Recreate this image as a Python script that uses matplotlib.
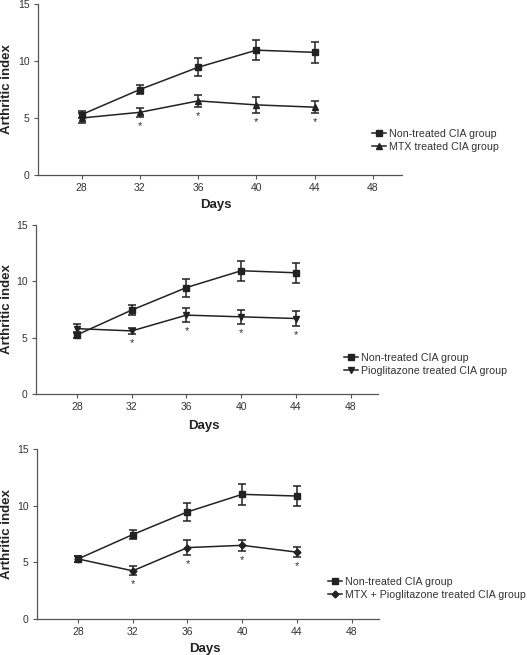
import matplotlib
matplotlib.use("Agg")
import matplotlib.pyplot as plt
from matplotlib.lines import Line2D

plt.rcParams['font.family'] = ['Liberation Sans', 'DejaVu Sans']

days = [28, 32, 36, 40, 44]
day_ticks = [28, 32, 36, 40, 44, 48]
index_ticks = [0, 5, 10, 15]

# non-treated CIA group, one reading per panel
control_1 = [5.3, 7.5, 9.45, 10.95, 10.76]
control_1_err = [0.3, 0.4, 0.8, 0.88, 0.9]
control_2 = [5.25, 7.45, 9.45, 10.94, 10.76]
control_2_err = [0.25, 0.42, 0.8, 0.89, 0.87]
control_3 = [5.3, 7.45, 9.45, 11.0, 10.85]
control_3_err = [0.25, 0.4, 0.8, 0.9, 0.9]

# treated groups
mtx = [5.0, 5.5, 6.5, 6.15, 5.95]
mtx_err = [0.4, 0.4, 0.5, 0.72, 0.53]
pio = [5.8, 5.6, 7.0, 6.85, 6.7]
pio_err = [0.37, 0.3, 0.63, 0.6, 0.7]
combo = [5.3, 4.25, 6.3, 6.5, 5.9]
combo_err = [0.25, 0.4, 0.63, 0.5, 0.44]

# days with significant difference (asterisk)
signif_days = [32, 36, 40, 44]

control_label = "Non-treated CIA group"
treated_labels = ["MTX treated CIA group",
                  "Pioglitazone treated CIA group",
                  "MTX + Pioglitazone treated CIA group"]

W, H = 527, 655
ink = "#222222"
text_col = "#333333"


def px_axes(left, right, top, bottom):
    return [left / W, 1 - bottom / H, (right - left) / W, (bottom - top) / H]


panels = [
    (px_axes(38, 402, 4, 175), control_1, control_1_err, mtx, mtx_err, "^",
     treated_labels[0], (372, 129), -0.14),
    (px_axes(36, 378, 225, 394), control_2, control_2_err, pio, pio_err, "v",
     treated_labels[1], (344, 353), -0.155),
    (px_axes(37, 379, 449, 619), control_3, control_3_err, combo, combo_err,
     "D", treated_labels[2], (328, 577), -0.14),
]

fig = plt.figure(figsize=(W / 100, H / 100), dpi=100)

for rect, ctrl, ctrl_err, trt, trt_err, mk, lab, leg_xy, xl_y in panels:
    ax = fig.add_axes(rect)
    ax.errorbar(days, ctrl, yerr=ctrl_err, color=ink, marker="s",
                markersize=5, lw=1.1, capsize=3, capthick=1.1, elinewidth=1.1)
    msize = 3.5 if mk == "D" else 4.5
    ax.errorbar(days, trt, yerr=trt_err, color=ink, marker=mk,
                markersize=msize, lw=1.1, capsize=3, capthick=1.1,
                elinewidth=1.1)
    for d in signif_days:
        i = days.index(d)
        ax.annotate("*", (d, trt[i] - trt_err[i]), xytext=(0, -3),
                    textcoords="offset points", ha="center", va="top",
                    fontsize=8, color=text_col)

    ax.set_xlim(25, 50)
    ax.set_ylim(0, 15)
    ax.set_xticks(day_ticks)
    ax.set_yticks(index_ticks)
    for s in ["top", "right"]:
        ax.spines[s].set_visible(False)
    for s in ["left", "bottom"]:
        ax.spines[s].set_color("#555555")
        ax.spines[s].set_linewidth(0.9)
    ax.tick_params(direction="out", length=3, width=0.8, color="#555555",
                   labelsize=7.5, labelcolor=text_col, pad=3)
    ax.set_xlabel("Days", fontsize=9.5, fontweight="bold", color=ink)
    ax.set_ylabel("Arthritic index", fontsize=9.5, fontweight="bold",
                  color=ink)
    ax.xaxis.set_label_coords(0.49, xl_y)
    ax.yaxis.set_label_coords((13 - rect[0] * W) / (rect[2] * W), 0.5)

    handles = [
        Line2D([], [], color=ink, marker="s", markersize=4.5, lw=1.1),
        Line2D([], [], color=ink, marker=mk, markersize=msize, lw=1.1),
    ]
    fig.legend(handles, [control_label, lab], loc="upper left",
               bbox_to_anchor=(leg_xy[0] / W, 1 - leg_xy[1] / H),
               frameon=False, fontsize=7.7, handlelength=1.3,
               handletextpad=0.3, labelspacing=0.25, borderpad=0,
               borderaxespad=0, labelcolor=text_col)

fig.savefig("out.png", dpi=100)
